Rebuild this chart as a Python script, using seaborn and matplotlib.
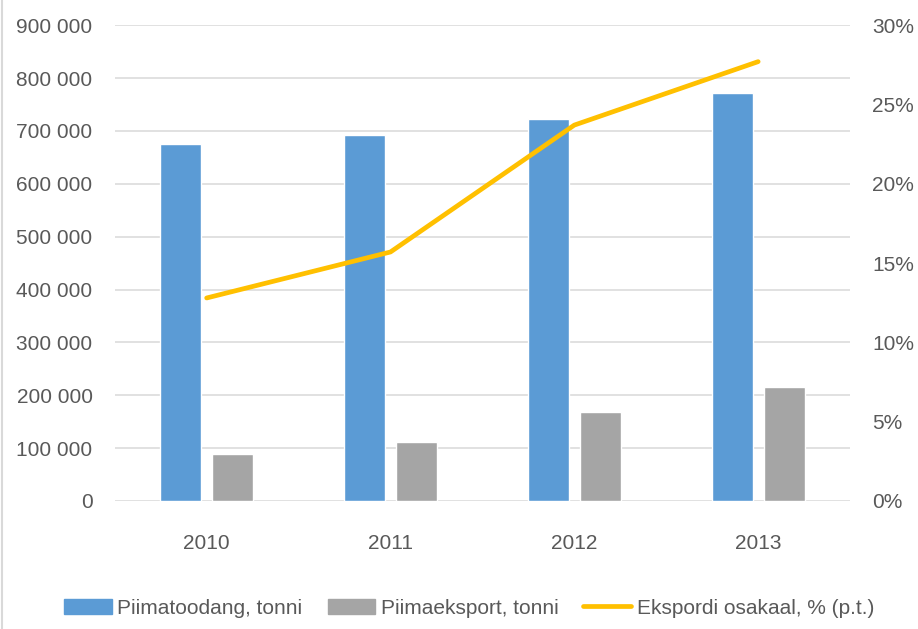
import numpy as np
import pandas as pd
import matplotlib
matplotlib.use("Agg")
from matplotlib import pyplot as plt
from matplotlib.ticker import FuncFormatter, MultipleLocator
from matplotlib.patches import Patch
from matplotlib.lines import Line2D
import seaborn as sns

# andmed
years = ["2010", "2011", "2012", "2013"]
toodang = [676000, 693000, 722000, 771000]
eksport = [88000, 111000, 169000, 215000]
osakaal = [12.8, 15.7, 23.7, 27.7]

series_names = ["Piimatoodang, tonni", "Piimaeksport, tonni"]
line_name = "Ekspordi osakaal, % (p.t.)"
colors = ["#5B9BD5", "#A5A5A5"]
line_color = "#FFC000"
text_color = "#595959"

sns.set_theme(style="white")
plt.rcParams["font.family"] = ["Liberation Sans Narrow", "Liberation Sans", "DejaVu Sans"]

df = pd.DataFrame({
    "aasta": years * 2,
    "tonni": toodang + eksport,
    "seeria": [series_names[0]] * 4 + [series_names[1]] * 4,
})

fig = plt.figure(figsize=(9.18, 6.29), dpi=100)
ax = fig.add_axes([0.125, 0.2035, 0.801, 0.7565])

sns.barplot(data=df, x="aasta", y="tonni", hue="seeria", palette=colors,
            width=0.565, gap=0.21, ax=ax, legend=False, saturation=1)
ax.set_ylim(0, 900000)
ax.set_xlim(-0.5, 3.5)
ax.yaxis.set_major_locator(MultipleLocator(100000))
ax.yaxis.set_major_formatter(FuncFormatter(lambda v, p: f"{int(v):,}".replace(",", " ")))
ax.grid(axis="y", color="#D9D9D9", linewidth=1.1)
ax.set_axisbelow(True)
for s in ax.spines.values():
    s.set_visible(False)
ax.set_xlabel("")
ax.set_ylabel("")
ax.tick_params(axis="y", length=0, pad=16, labelsize=15, labelcolor=text_color)
ax.tick_params(axis="x", length=0, pad=24, labelsize=15, labelcolor=text_color)

ax2 = ax.twinx()
sns.lineplot(x=np.arange(len(years)), y=osakaal, ax=ax2, color=line_color,
             linewidth=3.4, solid_capstyle="round")
ax2.set_ylim(0, 30)
ax2.yaxis.set_major_locator(MultipleLocator(5))
ax2.yaxis.set_major_formatter(FuncFormatter(lambda v, p: f"{int(v)}%"))
for s in ax2.spines.values():
    s.set_visible(False)
ax2.tick_params(axis="y", length=0, pad=16, labelsize=15, labelcolor=text_color)
ax2.grid(False)

handles = [Patch(color=colors[0]), Patch(color=colors[1]),
           Line2D([0], [0], color=line_color, linewidth=3.4, solid_capstyle="round")]
leg = fig.legend(handles, series_names + [line_name], loc="center",
                 bbox_to_anchor=(0.511, 0.033), ncol=3, frameon=False,
                 fontsize=15, handlelength=2.3, handleheight=0.77,
                 handletextpad=0.25, columnspacing=1.2)
for t in leg.get_texts():
    t.set_color(text_color)

# diagrammi raam vasakul servas
fig.add_artist(Line2D([0.002, 0.002], [0, 1], transform=fig.transFigure,
                      color="#D9D9D9", linewidth=1.5))

fig.savefig("out.png", dpi=100)
